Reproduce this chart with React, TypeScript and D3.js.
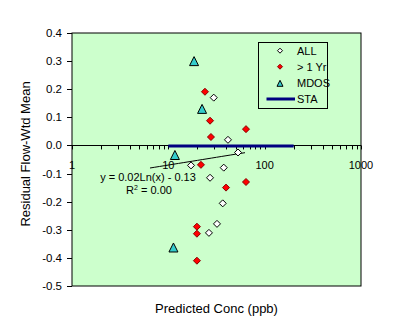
import React from "react";
import * as d3 from "d3";

const allX = [29.6, 41.6, 52.9, 17.2, 37.6, 27.1, 36.7, 32.0, 26.4];
const allY = [0.17, 0.02, -0.025, -0.071, -0.079, -0.115, -0.206, -0.279, -0.311];
const yrX = [24.0, 27.1, 64, 27.7, 21.8, 64, 39.7, 19.8, 19.8, 19.8];
const yrY = [0.191, 0.088, 0.058, 0.03, -0.069, -0.13, -0.15, -0.289, -0.314, -0.41];
const mdosX = [18.5, 22.4, 11.7, 11.3];
const mdosY = [0.3, 0.13, -0.034, -0.363];
const staX = [10, 200];
const staY = [0, 0];
const trendRange = [6.45, 62.5];
const trendSlope = 0.024;
const trendIntercept = -0.125;
const yTicks = [0.4, 0.3, 0.2, 0.1, 0.0, -0.1, -0.2, -0.3, -0.4, -0.5];
const xTicks = [1, 10, 100, 1000];
const legendItems = ["ALL", "> 1 Yr", "MDOS", "STA"];

const L = 72, R = 361, T = 33, B = 286;
const font = "'Liberation Sans', Arial, sans-serif";

export default function App() {
  const x = d3.scaleLog().domain([1, 1000]).range([L, R]);
  const y = d3.scaleLinear().domain([-0.5, 0.4]).range([B, T]);
  const y0 = y(0);
  const minor: number[] = [];
  [1, 10, 100].forEach((d) => {
    for (let k = 2; k <= 9; k++) minor.push(d * k);
  });
  const diamond = (cx: number, cy: number, r: number) =>
    `M${cx},${cy - r}L${cx + r},${cy}L${cx},${cy + r}L${cx - r},${cy}Z`;
  const tri = (cx: number, cy: number, w: number, h: number) =>
    `M${cx},${cy - h / 2}L${cx + w / 2},${cy + h / 2}L${cx - w / 2},${cy + h / 2}Z`;
  const trendLine = d3
    .line<number>()
    .x((d) => x(d))
    .y((d) => y(trendSlope * Math.log(d) + trendIntercept));
  const trendPts = d3.range(0, 21).map((i) => trendRange[0] * Math.pow(trendRange[1] / trendRange[0], i / 20));
  const lx = 280, ly = [50.7, 66.7, 83.3, 99];
  return (
    <div style={{ position: "absolute", left: 0, top: 0 }}>
      <svg width={403} height={334} style={{ display: "block", background: "#fff" }} fontFamily={font}>
        <rect x={L} y={T} width={R - L} height={B - T} fill="#CCFFCC" stroke="#000" strokeWidth={1} />
        {/* y ticks */}
        {yTicks.map((t) => (
          <g key={t}>
            <line x1={L - 5} x2={L} y1={Math.round(y(t)) + 0.5} y2={Math.round(y(t)) + 0.5} stroke="#000" />
            <text x={62} y={y(t) + 4} fontSize={11.5} textAnchor="end" fill="#000">
              {t.toFixed(1)}
            </text>
          </g>
        ))}
        {/* x axis at y=0 */}
        <line x1={L} x2={R} y1={Math.round(y0) + 0.5} y2={Math.round(y0) + 0.5} stroke="#000" />
        {minor.concat(xTicks).map((t) => (
          <line key={"m" + t} x1={Math.round(x(t)) + 0.5} x2={Math.round(x(t)) + 0.5} y1={y0} y2={y0 + 4} stroke="#000" />
        ))}
        {xTicks.map((t) => (
          <text key={"xt" + t} x={x(t)} y={169} fontSize={11} textAnchor="middle" fill="#000">
            {t}
          </text>
        ))}
        {/* STA line */}
        <line x1={x(staX[0])} x2={x(staX[1])} y1={y(staY[0]) + 0.5} y2={y(staY[1]) + 0.5} stroke="#000080" strokeWidth={3} />
        {/* trendline */}
        <path d={trendLine(trendPts) || ""} fill="none" stroke="#000" strokeWidth={1} />
        <text x={148} y={181} fontSize={11} textAnchor="middle" fill="#000">
          y = 0.02Ln(x) - 0.13
        </text>
        <text x={149} y={194} fontSize={11} textAnchor="middle" fill="#000">
          R<tspan dy={-4} fontSize={7}>2</tspan>
          <tspan dy={4}> = 0.00</tspan>
        </text>
        {/* ALL */}
        {allX.map((v, i) => (
          <path key={"a" + i} d={diamond(x(v), y(allY[i]), 3.5)} fill="#fff" stroke="#000" strokeWidth={1} />
        ))}
        {yrX.map((v, i) => (
          <path key={"r" + i} d={diamond(x(v), y(yrY[i]), 3.5)} fill="#FF0000" stroke="#880000" strokeWidth={1} />
        ))}
        {mdosX.map((v, i) => (
          <path key={"t" + i} d={tri(x(v), y(mdosY[i]), 9, 9)} fill="#33CCCC" stroke="#000" strokeWidth={1} />
        ))}
        {/* legend */}
        <rect x={258.5} y={42.5} width={69} height={66} fill="#CCFFCC" stroke="#000" />
        <path d={diamond(lx, ly[0], 2.5)} fill="#fff" stroke="#000" />
        <path d={diamond(lx, ly[1], 2.5)} fill="#FF0000" stroke="#880000" />
        <path d={tri(lx, ly[2], 6, 6)} fill="#33CCCC" stroke="#000" />
        <line x1={266.5} x2={295} y1={ly[3]} y2={ly[3]} stroke="#000080" strokeWidth={3} />
        {legendItems.map((s, i) => (
          <text key={s} x={297} y={ly[i] + 4} fontSize={11} fill="#000">
            {s}
          </text>
        ))}
        {/* titles */}
        <text x={216.5} y={313} fontSize={13} textAnchor="middle" fill="#000">
          Predicted Conc (ppb)
        </text>
        <text transform={`translate(30,154) rotate(-90)`} fontSize={13} textAnchor="middle" fill="#000">
          Residual Flow-Wtd Mean
        </text>
      </svg>
    </div>
  );
}
